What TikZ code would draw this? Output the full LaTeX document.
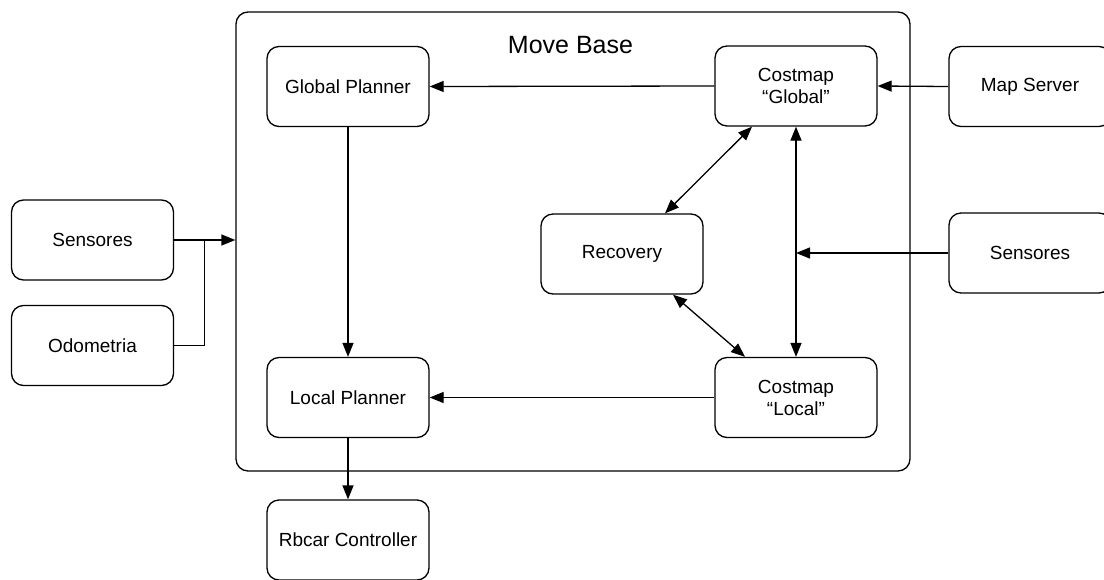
\documentclass[tikz,border=0pt]{standalone}
\usepackage{fontspec}
\setmainfont{Liberation Sans}
\usetikzlibrary{arrows.meta}

\begin{document}
\begin{tikzpicture}[x=1pt,y=-1pt,
  every path/.style={line width=1.3pt},
  block/.style={draw, rectangle, rounded corners=12pt, minimum width=162pt,
    minimum height=80pt, align=center, inner sep=0pt,
    font=\fontsize{19}{22}\selectfont},
  container/.style={draw, rectangle, rounded corners=12pt, inner sep=0pt},
  flow/.style={-{Triangle[length=14pt,width=11pt]}},
  twoway/.style={{Triangle[length=14pt,width=11pt]}-{Triangle[length=14pt,width=11pt]}}
]
\useasboundingbox (0,0) rectangle (1104,579);

% move_base container and its title
\node[container, minimum width=674pt, minimum height=459pt] (mb) at (573,241.5) {};
\node[font=\fontsize{25}{30}\selectfont] (title) at (570.5,45) {Move Base};

% blocks
\node[block] (gp)  at (348,86.5)  {Global Planner};
\node[block] (cg)  at (796,86)    {Costmap\\“Global”};
\node[block] (ms)  at (1030,86.5) {Map Server};
\node[block] (rec) at (622,254)   {Recovery};
\node[block] (sr)  at (1030,253)  {Sensores};
\node[block] (lp)  at (348,397.5) {Local Planner};
\node[block] (cl)  at (796,397.5) {Costmap\\“Local”};
\node[block] (rb)  at (348,540)   {Rbcar Controller};
\node[block] (sl)  at (92.5,240)  {Sensores};
\node[block] (od)  at (92.5,345.5){Odometria};

% planner chain
\draw[flow] (cg.west) -- (gp.east);
\draw[flow] (ms.west) -- (cg.east);
\draw[flow] (gp.south) -- (lp.north);
\draw[flow] (cl.west) -- (lp.east);
\draw[flow] (lp.south) -- (rb.north);

% costmaps and recovery
\draw[twoway] (cg.south) -- (cl.north);
\draw[flow] (sr.west) -- (sr.west -| cg.south);
\draw[twoway] ([xshift=43pt]rec.north) -- ([xshift=-44pt]cg.south);
\draw[twoway] ([xshift=51pt]rec.south) -- ([xshift=-51pt]cl.north);

% sensor and odometry inputs
\coordinate (join) at ([xshift=30.5pt]sl.east);
\draw[flow] (sl.east) -- (sl.east -| mb.west);
\draw (od.east) -| (join);
\end{tikzpicture}
\end{document}
